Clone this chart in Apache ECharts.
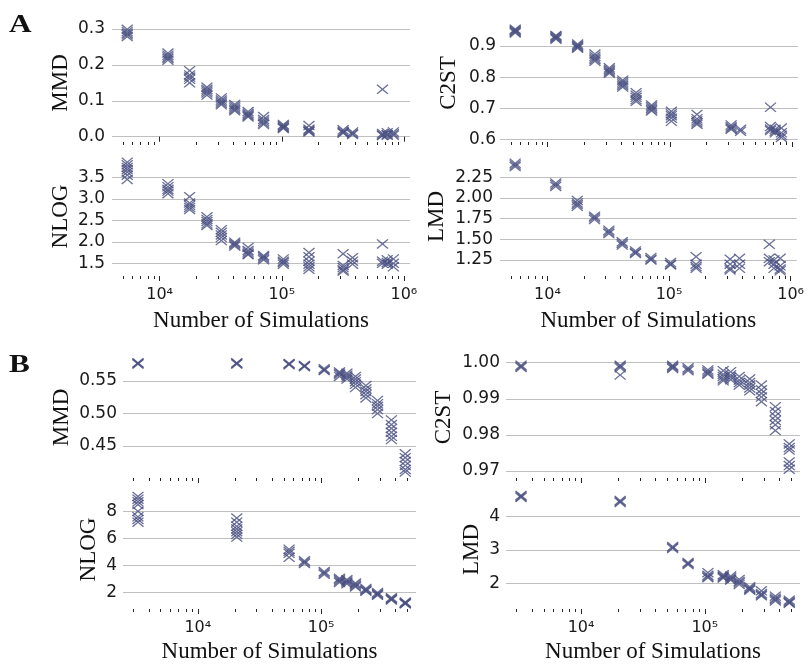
<!DOCTYPE html>
<html>
<head>
<meta charset="utf-8">
<script src="https://cdn.jsdelivr.net/npm/echarts@6/dist/echarts.min.js"></script>
<style>
  html, body { margin: 0; padding: 0; background: #fff; }
  #chart { width: 807px; height: 664px; }
</style>
</head>
<body>
<div id="chart"></div>
<script>
// ---- Experiment A: simulation budgets and per-run metric values ----
const simsA = [5430, 11700, 17600, 24400, 32000, 41200, 53000, 71000, 103000, 167000, 318000, 380000, 668000, 730000, 820000];

const mmdA = [
  [0.299, 0.293, 0.288, 0.284, 0.279],
  [0.233, 0.227, 0.222, 0.218, 0.213],
  [0.184, 0.172, 0.166, 0.160, 0.150],
  [0.138, 0.132, 0.127, 0.122, 0.116],
  [0.108, 0.102, 0.097, 0.093, 0.089],
  [0.090, 0.085, 0.080, 0.076, 0.072],
  [0.070, 0.065, 0.061, 0.058, 0.055],
  [0.056, 0.048, 0.043, 0.038, 0.034],
  [0.034, 0.031, 0.028, 0.025, 0.023],
  [0.031, 0.021, 0.018, 0.015, 0.013],
  [0.019, 0.015, 0.012, 0.010],
  [0.013, 0.009, 0.006],
  [0.132, 0.009, 0.005, 0.003],
  [0.011, 0.006, 0.004],
  [0.013, 0.008, 0.004]
];

const c2stA = [
  [0.954, 0.951, 0.948, 0.945, 0.942],
  [0.934, 0.931, 0.928, 0.925, 0.922],
  [0.906, 0.902, 0.899, 0.896, 0.893],
  [0.874, 0.867, 0.861, 0.856, 0.851],
  [0.830, 0.825, 0.820, 0.816, 0.812],
  [0.790, 0.784, 0.778, 0.773, 0.768],
  [0.750, 0.742, 0.735, 0.728, 0.722],
  [0.710, 0.705, 0.700, 0.695, 0.691],
  [0.690, 0.682, 0.676, 0.668, 0.658],
  [0.680, 0.666, 0.659, 0.653, 0.648],
  [0.646, 0.640, 0.636, 0.632],
  [0.632, 0.626],
  [0.703, 0.641, 0.633, 0.628],
  [0.632, 0.626, 0.621],
  [0.636, 0.621, 0.613, 0.606]
];

const nlogA = [
  [3.85, 3.79, 3.73, 3.68, 3.62, 3.55, 3.45],
  [3.35, 3.28, 3.22, 3.18, 3.12],
  [3.05, 2.90, 2.85, 2.80, 2.75],
  [2.58, 2.52, 2.47, 2.42, 2.38],
  [2.28, 2.22, 2.16, 2.10, 2.03],
  [1.99, 1.96, 1.93, 1.90],
  [1.87, 1.80, 1.76, 1.72, 1.70],
  [1.68, 1.65, 1.62, 1.58],
  [1.60, 1.55, 1.52, 1.48],
  [1.75, 1.65, 1.55, 1.48, 1.42, 1.36],
  [1.72, 1.45, 1.40, 1.35, 1.32],
  [1.63, 1.55, 1.48],
  [1.95, 1.55, 1.50],
  [1.58, 1.52, 1.48],
  [1.60, 1.50, 1.42]
];

const lmdA = [
  [2.42, 2.40, 2.38],
  [2.18, 2.16, 2.14],
  [1.97, 1.94, 1.92, 1.90],
  [1.78, 1.76, 1.74],
  [1.61, 1.59, 1.57],
  [1.47, 1.45, 1.43],
  [1.36, 1.34, 1.33],
  [1.28, 1.26, 1.25],
  [1.22, 1.20, 1.19],
  [1.29, 1.20, 1.17, 1.15],
  [1.26, 1.20, 1.15, 1.13],
  [1.27, 1.20, 1.15],
  [1.44, 1.27, 1.23],
  [1.25, 1.20, 1.15],
  [1.27, 1.18, 1.14, 1.12]
];

// ---- Experiment B ----
const simsB = [3270, 20700, 55000, 73300, 106000, 141000, 162000, 190000, 231000, 287000, 372000, 482000];

const mmdB = [
  [0.578, 0.577, 0.576],
  [0.578, 0.577, 0.576],
  [0.577, 0.576, 0.575],
  [0.574, 0.573, 0.572],
  [0.569, 0.567, 0.566],
  [0.564, 0.562, 0.560, 0.557],
  [0.562, 0.559, 0.556, 0.553],
  [0.557, 0.553, 0.549, 0.545, 0.540],
  [0.543, 0.538, 0.534, 0.529, 0.524],
  [0.520, 0.515, 0.511, 0.506, 0.500],
  [0.490, 0.483, 0.477, 0.471, 0.465, 0.460],
  [0.438, 0.432, 0.426, 0.420, 0.414, 0.410]
];

const c2stB = [
  [0.9993, 0.9990, 0.9987],
  [0.9993, 0.9990, 0.9986, 0.9966],
  [0.9993, 0.9990, 0.9987, 0.9984],
  [0.9986, 0.9982, 0.9978],
  [0.9980, 0.9975, 0.9971, 0.9968],
  [0.9978, 0.9968, 0.9962, 0.9955, 0.9950],
  [0.9975, 0.9966, 0.9960, 0.9953],
  [0.9962, 0.9952, 0.9945, 0.9938],
  [0.9955, 0.9945, 0.9938, 0.9930, 0.9922],
  [0.9938, 0.9925, 0.9915, 0.9905, 0.9892],
  [0.9878, 0.9865, 0.9852, 0.9840, 0.9828, 0.9812],
  [0.9775, 0.9765, 0.9758, 0.9725, 0.9715, 0.9705]
];

const nlogB = [
  [9.1, 8.9, 8.7, 8.5, 8.0, 7.6, 7.4, 7.2],
  [7.5, 7.2, 6.9, 6.7, 6.5, 6.3, 6.1],
  [5.2, 5.05, 4.9, 4.6],
  [4.35, 4.25, 4.15],
  [3.55, 3.45, 3.35],
  [3.05, 2.95, 2.85, 2.75],
  [2.95, 2.85, 2.75, 2.65],
  [2.70, 2.60, 2.50, 2.42],
  [2.30, 2.22, 2.15, 2.10],
  [2.00, 1.92, 1.86, 1.80],
  [1.62, 1.55, 1.50, 1.45],
  [1.30, 1.25, 1.20, 1.17]
];

const lmdB = [
  [4.62, 4.59, 4.56],
  [4.47, 4.44, 4.41],
  [3.10, 3.07, 3.04],
  [2.62, 2.59, 2.56],
  [2.32, 2.24, 2.20, 2.17],
  [2.26, 2.22, 2.19, 2.16],
  [2.22, 2.17, 2.13, 2.10],
  [2.12, 2.06, 2.02, 1.97],
  [1.90, 1.86, 1.83, 1.80],
  [1.78, 1.70, 1.66, 1.63],
  [1.62, 1.56, 1.52, 1.48],
  [1.50, 1.46, 1.43, 1.41]
];

// ---- Tick values ----
const decadesA = [4, 5, 6];
const decadesB = [4, 5];
const ticksMmdA = [0.0, 0.1, 0.2, 0.3];
const ticksC2stA = [0.6, 0.7, 0.8, 0.9];
const ticksNlogA = [1.5, 2.0, 2.5, 3.0, 3.5];
const ticksLmdA = [1.25, 1.50, 1.75, 2.00, 2.25];
const ticksMmdB = [0.45, 0.50, 0.55];
const ticksC2stB = [0.97, 0.98, 0.99, 1.00];
const ticksNlogB = [2, 4, 6, 8];
const ticksLmdB = [2, 3, 4];

// ---- Styling ----
const MARK = '#474e80';
const TICK = '#262626';
const GRIDLINE = '#bfbfbf';
const SANS = 'DejaVu Sans';
const SERIF = 'Liberation Serif';
const SUP = { 4: '\u2074', 5: '\u2075', 6: '\u2076' };
const XMARK = 'path://M0,8.5L8.5,0L50,41.5L91.5,0L100,8.5L58.5,50L100,91.5L91.5,100L50,58.5L8.5,100L0,91.5L41.5,50Z';

// log10-space ranges of the shared x axes
const xRangeA = [3.61, 6.05];
const xRangeB = [3.393, 5.77];

function minorTicks(range) {
  const out = [];
  for (let e = 3; e <= 6; e++) {
    for (let k = 2; k <= 9; k++) {
      const v = Math.log10(k * Math.pow(10, e));
      if (v > range[0] && v < range[1]) out.push(v);
    }
  }
  return out;
}

function toPoints(sims, values) {
  const pts = [];
  sims.forEach((n, i) => values[i].forEach(v => pts.push([Math.log10(n), v])));
  return pts;
}

const panels = [
  // experiment A
  { grid: { left: 112, top: 24, width: 298, height: 118 }, xr: xRangeA, dec: decadesA, showX: false,
    sims: simsA, vals: mmdA, name: 'MMD', y: [-0.0148, 0.3139], ticks: ticksMmdA, digits: 1, nameGap: 40, lm: 7 },
  { grid: { left: 500, top: 24, width: 298, height: 118 }, xr: xRangeA, dec: decadesA, showX: false,
    sims: simsA, vals: c2stA, name: 'C2ST', y: [0.5913, 0.9707], ticks: ticksC2stA, digits: 1, nameGap: 40, lm: 4 },
  { grid: { left: 112, top: 157, width: 298, height: 119 }, xr: xRangeA, dec: decadesA, showX: true, xGap: 33,
    sims: simsA, vals: nlogA, name: 'NLOG', y: [1.2047, 3.972], ticks: ticksNlogA, digits: 1, nameGap: 40, lm: 7 },
  { grid: { left: 500, top: 157, width: 298, height: 119 }, xr: xRangeA, dec: decadesA, showX: true, xGap: 33,
    sims: simsA, vals: lmdA, name: 'LMD', y: [1.0565, 2.4955], ticks: ticksLmdA, digits: 2, nameGap: 52, lm: 7 },
  // experiment B
  { grid: { left: 123, top: 357, width: 293, height: 121 }, xr: xRangeB, dec: decadesB, showX: false,
    sims: simsB, vals: mmdB, name: 'MMD', y: [0.4008, 0.5869], ticks: ticksMmdB, digits: 2, nameGap: 50, lm: 6 },
  { grid: { left: 506, top: 357, width: 294, height: 121 }, xr: xRangeB, dec: decadesB, showX: false,
    sims: simsB, vals: c2stB, name: 'C2ST', y: [0.96806, 1.00158], ticks: ticksC2stB, digits: 2, nameGap: 51, lm: 6 },
  { grid: { left: 123, top: 490, width: 293, height: 121 }, xr: xRangeB, dec: decadesB, showX: true, xGap: 31,
    sims: simsB, vals: nlogB, name: 'NLOG', y: [0.787, 9.576], ticks: ticksNlogB, digits: 0, nameGap: 23, lm: 6 },
  { grid: { left: 506, top: 490, width: 294, height: 121 }, xr: xRangeB, dec: decadesB, showX: true, xGap: 31,
    sims: simsB, vals: lmdB, name: 'LMD', y: [1.2387, 4.782], ticks: ticksLmdB, digits: 0, nameGap: 23, lm: 6 }
];

const grid = [], xAxis = [], yAxis = [], series = [];

panels.forEach((p, i) => {
  grid.push(Object.assign({ containLabel: false }, p.grid));

  // decade ticks and labels
  xAxis.push({
    gridIndex: i, type: 'value', min: p.xr[0], max: p.xr[1], position: 'bottom',
    axisLine: { show: false },
    splitLine: { show: false },
    axisTick: { show: true, customValues: p.dec, length: 5, lineStyle: { color: TICK, width: 1 } },
    axisLabel: {
      show: p.showX, customValues: p.dec, margin: 11,
      fontFamily: SANS, fontSize: 16, color: '#1a1a1a',
      formatter: v => '10' + SUP[Math.round(v)]
    },
    name: p.showX ? 'Number of Simulations' : '',
    nameLocation: 'middle', nameGap: p.xGap || 30,
    nameTextStyle: { fontFamily: SERIF, fontSize: 23, color: '#111' }
  });
  // minor ticks between decades
  xAxis.push({
    gridIndex: i, type: 'value', min: p.xr[0], max: p.xr[1], position: 'bottom',
    axisLine: { show: false },
    splitLine: { show: false },
    axisLabel: { show: false },
    axisTick: { show: true, customValues: minorTicks(p.xr), length: 3, lineStyle: { color: TICK, width: 1 } }
  });

  yAxis.push({
    gridIndex: i, type: 'value', min: p.y[0], max: p.y[1],
    axisLine: { show: false },
    axisTick: { show: false, customValues: p.ticks },
    axisLabel: {
      customValues: p.ticks, margin: p.lm,
      fontFamily: SANS, fontSize: 17, color: '#1a1a1a',
      formatter: v => Number(v).toFixed(p.digits)
    },
    splitLine: { show: true, lineStyle: { color: GRIDLINE, width: 1 } },
    name: p.name, nameLocation: 'middle', nameGap: p.nameGap,
    nameTextStyle: { fontFamily: SERIF, fontSize: 23, color: '#111' }
  });

  series.push({
    type: 'scatter', xAxisIndex: 2 * i, yAxisIndex: i,
    symbol: XMARK, symbolSize: [12, 10],
    itemStyle: { color: MARK, opacity: 0.8 },
    data: toPoints(p.sims, p.vals),
    silent: true
  });
});

const chart = echarts.init(document.getElementById('chart'), null, { renderer: 'canvas' });
chart.setOption({
  backgroundColor: '#fff',
  animation: false,
  grid, xAxis, yAxis, series,
  graphic: [
    { type: 'text', x: 9, y: 12, scaleX: 1.2,
      style: { text: 'A', font: 'bold 26px "Liberation Serif"', fill: '#111' } },
    { type: 'text', x: 9, y: 352, scaleX: 1.2,
      style: { text: 'B', font: 'bold 26px "Liberation Serif"', fill: '#111' } }
  ]
});
</script>
</body>
</html>
